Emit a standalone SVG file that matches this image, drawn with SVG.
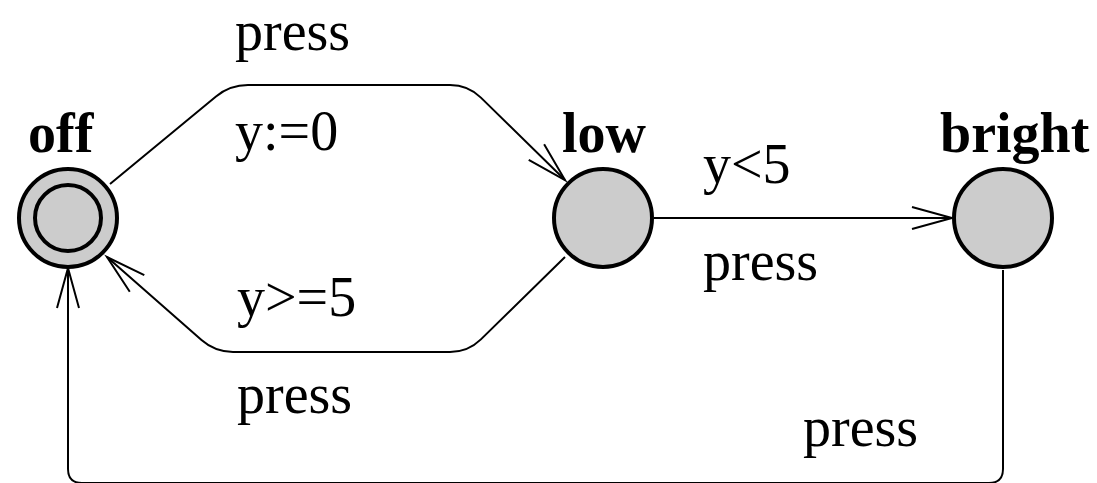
<svg xmlns="http://www.w3.org/2000/svg" width="1097" height="483" viewBox="0 0 1097 483">
<style>
.loc{fill:#cccccc;stroke:#000;stroke-width:4}
.name{font-family:"Liberation Serif","Times New Roman",serif;font-weight:bold;font-size:56px;fill:#000}
.lbl{font-family:"Liberation Serif","Times New Roman",serif;font-size:56px;fill:#000}
.edge{fill:none;stroke:#000;stroke-width:2;marker-end:url(#arr)}
</style>
<defs>
<marker id="arr" markerUnits="userSpaceOnUse" markerWidth="60" markerHeight="60" viewBox="-50 -30 60 60" refX="0" refY="0" orient="auto" overflow="visible">
<path d="M-40,-11 L0,0 L-40,11" fill="none" stroke="#000" stroke-width="2"/>
</marker>
</defs>
<rect width="1097" height="483" fill="#fff"/>
<g id="edges">
<path class="edge" d="M110,184 L216,96.4 Q230,85 248,85 L450,85 Q468,85 480.9,97.6 L565,180"/>
<path class="edge" d="M565,257 L480.9,339.4 Q468,352 450,352 L233,352 Q215,352 201.5,340.1 L107,257"/>
<path class="edge" d="M654,218 L952,218"/>
<path class="edge" d="M1003,270 L1003,469 Q1003,483 989,483 L82,483 Q68,483 68,469 L68,268"/>
<text class="lbl" x="235" y="50">press</text>
<text class="lbl" x="235" y="150">y:=0</text>
<text class="lbl" x="703" y="183">y&lt;5</text>
<text class="lbl" x="703" y="280">press</text>
<text class="lbl" x="237" y="316">y&gt;=5</text>
<text class="lbl" x="237" y="413">press</text>
<text class="lbl" x="803" y="446">press</text>
</g>
<g id="off">
<circle class="loc" cx="68" cy="218" r="49"/>
<circle class="loc" cx="68" cy="218" r="33"/>
<text class="name" x="28" y="152">off</text>
</g>
<g id="low">
<circle class="loc" cx="603" cy="218" r="49"/>
<text class="name" x="562" y="152">low</text>
</g>
<g id="bright">
<circle class="loc" cx="1003" cy="218" r="49"/>
<text class="name" x="940" y="152">bright</text>
</g>
</svg>
